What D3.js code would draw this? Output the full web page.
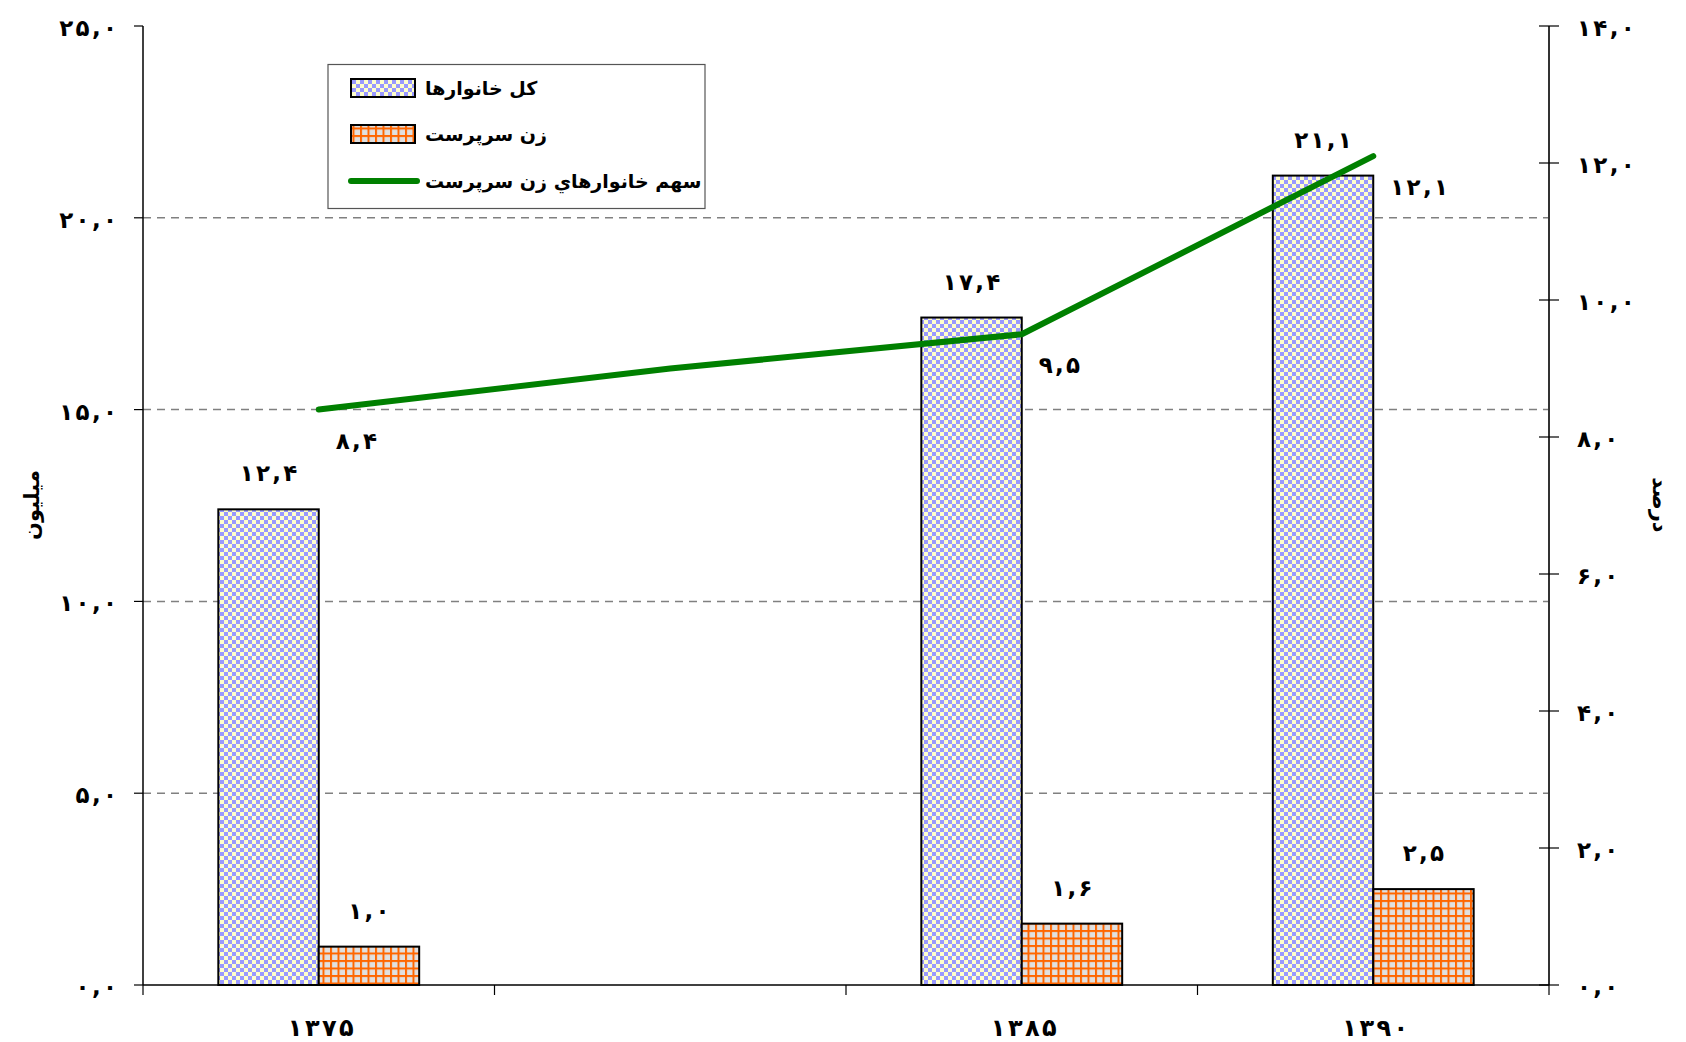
<!DOCTYPE html>
<html><head><meta charset="utf-8">
<script src="https://cdn.jsdelivr.net/npm/d3@7"></script>
<style>html,body{margin:0;padding:0;background:#fff;} svg{display:block;}</style>
</head><body>
<script>
// ---- data ----
const categories = ["1375", "1380", "1385", "1390"];
const categoryLabels = ["۱۳۷۵", "", "۱۳۸۵", "۱۳۹۰"];
const totalHouseholds = [12.4, null, 17.4, 21.1];      // million
const femaleHeaded = [1.0, null, 1.6, 2.5];            // million
const femaleShare = [8.4, 9.0, 9.5, 12.1];             // percent
const shareLabelShown = [true, false, true, true];
const leftTicks = [0, 5, 10, 15, 20, 25];
const rightTicks = [0, 2, 4, 6, 8, 10, 12, 14];
const seriesNames = ["کل خانوارها", "زن سرپرست", "سهم خانوارهاي زن سرپرست"];
const leftTitle = "میلیون";
const rightTitle = "درصد";

// ---- helpers ----
const faDigits = "۰۱۲۳۴۵۶۷۸۹";
const spaced = s => s.split("").join("\u200A");
const fmt = v => spaced(v.toFixed(1).replace(".", ",").replace(/[0-9]/g, d => faDigits[+d]));

const W = 1686, H = 1042;
const M = {left: 143, right: 1549, top: 26, bottom: 985};
const FONT = "'DejaVu Sans', sans-serif";
const NUM_SIZE = 23;

const svg = d3.select("body").append("svg").attr("width", W).attr("height", H)
  .style("font-family", FONT).style("font-weight", "bold");

const defs = svg.append("defs");
const chk = defs.append("pattern").attr("id", "checker").attr("patternUnits", "userSpaceOnUse")
  .attr("width", 8).attr("height", 8);
chk.append("rect").attr("width", 8).attr("height", 8).attr("fill", "#FFFFCC");
chk.append("rect").attr("width", 4).attr("height", 4).attr("fill", "#9999FF");
chk.append("rect").attr("x", 4).attr("y", 4).attr("width", 4).attr("height", 4).attr("fill", "#9999FF");
const grd = defs.append("pattern").attr("id", "grid").attr("patternUnits", "userSpaceOnUse")
  .attr("width", 7.5).attr("height", 7.5);
grd.append("rect").attr("width", 7.5).attr("height", 7.5).attr("fill", "#E0E0E0");
grd.append("rect").attr("x", 0).attr("width", 2).attr("height", 7.5).attr("fill", "#FF6600");
grd.append("rect").attr("y", 0).attr("width", 7.5).attr("height", 2).attr("fill", "#FF6600");

// ---- scales ----
const x = d3.scaleBand().domain(categories).range([M.left, M.right]).paddingInner(0).paddingOuter(0);
const barW = x.bandwidth() / 3.5;
const xs = d3.scaleBand().domain(["total", "female"]).range([0, 2 * barW]);
const yL = d3.scaleLinear().domain([0, 25]).range([M.bottom, M.top]);
const yR = d3.scaleLinear().domain([0, 14]).range([M.bottom, M.top]);
const groupX = c => x(c) + (x.bandwidth() - 2 * barW) / 2;

// ---- gridlines ----
svg.append("g").selectAll("line").data(leftTicks.filter(t => t > 0 && t < 25)).join("line")
  .attr("x1", M.left).attr("x2", M.right).attr("y1", d => yL(d)).attr("y2", d => yL(d))
  .attr("stroke", "#808080").attr("stroke-width", 1.5).attr("stroke-dasharray", "8,6");

// ---- bars ----
const barData = [];
categories.forEach((c, i) => {
  if (totalHouseholds[i] != null) barData.push({c, key: "total", v: totalHouseholds[i], fill: "url(#checker)"});
  if (femaleHeaded[i] != null) barData.push({c, key: "female", v: femaleHeaded[i], fill: "url(#grid)"});
});
svg.append("g").selectAll("rect").data(barData).join("rect")
  .attr("x", d => groupX(d.c) + xs(d.key)).attr("width", xs.bandwidth())
  .attr("y", d => yL(d.v)).attr("height", d => yL(0) - yL(d.v))
  .attr("fill", d => d.fill).attr("stroke", "#000").attr("stroke-width", 2);

svg.append("g").selectAll("text").data(barData).join("text")
  .attr("x", d => groupX(d.c) + xs(d.key) + xs.bandwidth() / 2)
  .attr("y", d => yL(d.v) - 36).attr("dy", "0.35em").attr("font-size", NUM_SIZE)
  .attr("text-anchor", "middle").text(d => fmt(d.v));

// ---- axes ----
const axL = svg.append("g");
axL.append("line").attr("x1", M.left).attr("x2", M.left).attr("y1", M.top).attr("y2", M.bottom)
  .attr("stroke", "#000").attr("stroke-width", 1.5);
axL.selectAll(".tk").data(leftTicks).join("line").attr("class", "tk")
  .attr("x1", M.left - 9).attr("x2", M.left).attr("y1", d => yL(d)).attr("y2", d => yL(d))
  .attr("stroke", "#000").attr("stroke-width", 1.2);
axL.selectAll("text").data(leftTicks).join("text")
  .attr("x", 117).attr("y", d => yL(d) + 2).attr("dy", "0.35em").attr("text-anchor", "end")
  .attr("font-size", NUM_SIZE).text(d => fmt(d));

const axR = svg.append("g");
axR.append("line").attr("x1", M.right).attr("x2", M.right).attr("y1", M.top).attr("y2", M.bottom)
  .attr("stroke", "#333").attr("stroke-width", 2);
axR.selectAll(".tk").data(rightTicks).join("line").attr("class", "tk")
  .attr("x1", M.right - 10).attr("x2", M.right + 10).attr("y1", d => yR(d)).attr("y2", d => yR(d))
  .attr("stroke", "#000").attr("stroke-width", 1.2);
axR.selectAll("text").data(rightTicks).join("text")
  .attr("x", 1577).attr("y", d => yR(d) + 2).attr("dy", "0.35em").attr("text-anchor", "start")
  .attr("font-size", NUM_SIZE).text(d => fmt(d));

const axB = svg.append("g");
axB.append("line").attr("x1", M.left).attr("x2", M.right).attr("y1", M.bottom).attr("y2", M.bottom)
  .attr("stroke", "#000").attr("stroke-width", 1.5);
const bounds = categories.map(c => x(c)).concat([M.right]);
axB.selectAll(".tk").data(bounds).join("line").attr("class", "tk")
  .attr("x1", d => d).attr("x2", d => d).attr("y1", M.bottom).attr("y2", M.bottom + 10)
  .attr("stroke", "#000").attr("stroke-width", 1.2);
axB.selectAll("text").data(categories).join("text")
  .attr("x", d => x(d) + x.bandwidth() / 2 + 2).attr("y", 1028).attr("dy", "0.35em")
  .attr("text-anchor", "middle").attr("font-size", 24)
  .text((d, i) => spaced(categoryLabels[i]));

svg.append("text").attr("transform", "translate(32,505) rotate(-90)").attr("text-anchor", "middle")
  .attr("dy", "0.35em").attr("font-size", 21).text(leftTitle);
svg.append("text").attr("transform", "translate(1660,505) rotate(90)").attr("text-anchor", "middle")
  .attr("dy", "0.35em").attr("font-size", 21).text(rightTitle);

// ---- line ----
const lineData = categories.map((c, i) => ({c, v: femaleShare[i], show: shareLabelShown[i]}));
svg.append("path").datum(lineData)
  .attr("d", d3.line().x(d => x(d.c) + x.bandwidth() / 2).y(d => yR(d.v)))
  .attr("fill", "none").attr("stroke", "#008000").attr("stroke-width", 6)
  .attr("stroke-linecap", "round").attr("stroke-linejoin", "round");
svg.append("g").selectAll("text").data(lineData.filter(d => d.show)).join("text")
  .attr("x", d => x(d.c) + x.bandwidth() / 2 + 17).attr("y", d => yR(d.v) + 31).attr("dy", "0.35em")
  .attr("text-anchor", "start").attr("font-size", NUM_SIZE).text(d => fmt(d.v));

// ---- legend ----
const lg = svg.append("g");
lg.append("rect").attr("x", 328).attr("y", 64.5).attr("width", 377).attr("height", 144)
  .attr("fill", "#fff").attr("stroke", "#555").attr("stroke-width", 1.2);
const rowsY = [88, 134, 181];
lg.append("rect").attr("x", 351).attr("y", rowsY[0] - 9).attr("width", 64).attr("height", 18)
  .attr("fill", "url(#checker)").attr("stroke", "#000").attr("stroke-width", 2);
lg.append("rect").attr("x", 351).attr("y", rowsY[1] - 9).attr("width", 64).attr("height", 18)
  .attr("fill", "url(#grid)").attr("stroke", "#000").attr("stroke-width", 2);
lg.append("line").attr("x1", 351).attr("x2", 417).attr("y1", rowsY[2]).attr("y2", rowsY[2])
  .attr("stroke", "#008000").attr("stroke-width", 6).attr("stroke-linecap", "round");
lg.selectAll("text").data(seriesNames).join("text")
  .attr("x", 425).attr("y", (d, i) => rowsY[i]).attr("dy", "0.35em")
  .attr("text-anchor", "start").attr("font-size", 19).text(d => d);
</script>
</body></html>
